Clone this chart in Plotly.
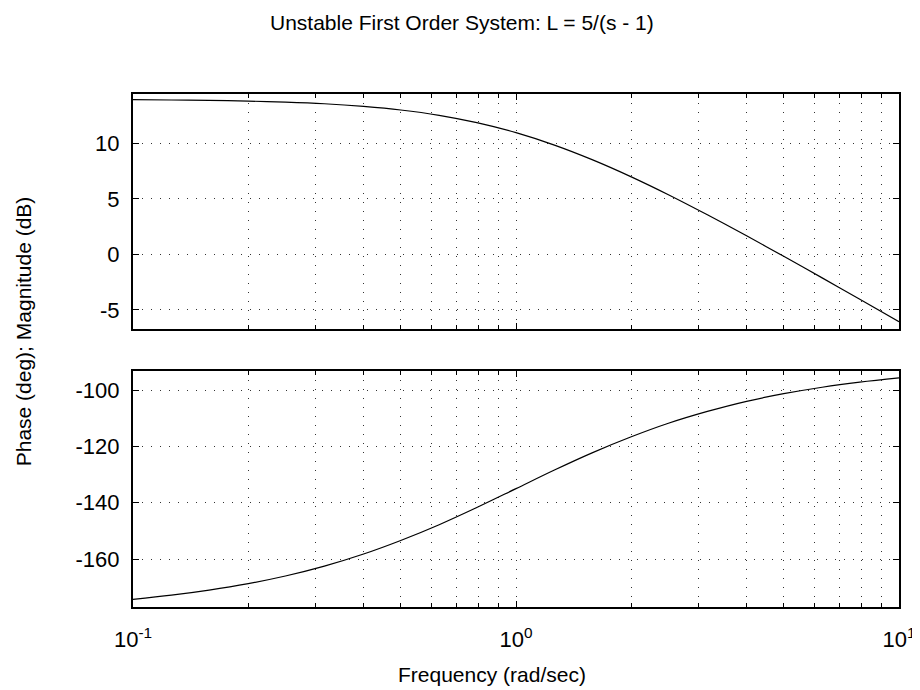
"""
 Bode plot of an unstable first order system
"""

from plotly.graph_objects import Scatter, Figure

# frequencies (rad/sec) and values
freq = [0.1, 0.126, 0.158, 0.2, 0.25, 0.316, 0.4, 0.5, 0.63, 0.79,
        1.0, 1.26, 1.58, 2.0, 2.5, 3.16, 4.0, 5.0, 6.3, 7.9, 10.0]
magnitude_db = [13.94, 13.91, 13.87, 13.81, 13.72, 13.57, 13.33, 13.01, 12.53, 11.87,
                10.97, 9.85, 8.54, 6.99, 5.38, 3.57, 1.68, -0.17, -2.11, -4.04, -6.06]
phase_deg = [-174.3, -172.8, -171.0, -168.7, -166.0, -162.5, -158.2, -153.4, -147.8, -141.7,
             -135.0, -128.4, -122.3, -116.6, -111.8, -107.6, -104.0, -101.3, -99.0, -97.2, -95.7]

mag_ticks = [-5, 0, 5, 10]
mag_ticktext = ["-5", "0", "5", "10"]
phase_ticks = [-160, -140, -120, -100]
phase_ticktext = ["-160", "-140", "-120", "-100"]
x_ticks = [0.1, 1, 10]
x_ticktext = ["10<sup>-1</sup>", "10<sup>0</sup>", "10<sup>1</sup>"]
x_minor = [0.2, 0.3, 0.4, 0.5, 0.6, 0.7, 0.8, 0.9, 2, 3, 4, 5, 6, 7, 8, 9]

title = "Unstable First Order System: L = 5/(s - 1)"
xlabel = "Frequency (rad/sec)"
ylabel = "Phase (deg); Magnitude (dB)"

# page body adds 8px around the plot div
W, H, OFF = 920, 690, 8
ML, MR, MT, MB = 125, 27, 86, 91


def to_paper(px, py):
    """window pixel -> paper coordinates"""
    fx, fy = px - OFF, py - OFF
    return (fx - ML) / (W - ML - MR), (H - MB - fy) / (H - MT - MB)


def main():
    """
       Build the figure and write it
    """
    family = "Liberation Sans, Arial, sans-serif"
    font = dict(family=family, size=21, color="black")
    tick_font = dict(family=family, size=22, color="black")
    grid = dict(showgrid=True, gridcolor="#333", griddash="1px,8px", gridwidth=1)

    fig = Figure()
    fig.add_trace(Scatter(x=freq, y=magnitude_db, mode="lines", line_shape="spline",
                          line=dict(color="black", width=1.2), xaxis="x", yaxis="y"))
    fig.add_trace(Scatter(x=freq, y=phase_deg, mode="lines", line_shape="spline",
                          line=dict(color="black", width=1.2), xaxis="x2", yaxis="y2"))

    common_x = dict(type="log", range=[-1, 1], showline=True, linecolor="black", linewidth=2,
                    mirror="ticks", ticks="inside", ticklen=6, tickcolor="black",
                    tickvals=x_ticks, ticktext=x_ticktext,
                    minor=dict(tickvals=x_minor, ticks="inside", ticklen=4, tickcolor="black",
                               **grid),
                    zeroline=False, tickfont=tick_font, **grid)
    common_y = dict(showline=True, linecolor="black", linewidth=2, mirror="ticks",
                    ticks="inside", ticklen=6, tickcolor="black", ticklabelstandoff=7,
                    zeroline=False, tickfont=tick_font, **grid)

    tx, ty = to_paper(268, 22)
    xx, xy = to_paper(493, 674)
    yx, yy = to_paper(23, 468)

    fig.update_layout(
        width=W, height=H,
        paper_bgcolor="white", plot_bgcolor="white",
        showlegend=False,
        margin=dict(l=ML, r=MR, t=MT, b=MB),
        font=font,
        xaxis=dict(common_x, domain=[0, 1], anchor="y", showticklabels=False, matches="x2"),
        yaxis=dict(common_y, domain=[0.542, 1], range=[-6.71, 14.45],
                   tickvals=mag_ticks, ticktext=mag_ticktext),
        xaxis2=dict(common_x, domain=[0, 1], anchor="y2", ticklabelstandoff=12),
        yaxis2=dict(common_y, domain=[0, 0.46], range=[-177.0, -93.25],
                    tickvals=phase_ticks, ticktext=phase_ticktext),
        annotations=[
            dict(text=title, x=tx, y=ty, xref="paper", yref="paper",
                 xanchor="left", yanchor="middle", showarrow=False, font=font),
            dict(text=xlabel, x=xx, y=xy, xref="paper", yref="paper",
                 xanchor="center", yanchor="middle", showarrow=False, font=font),
            dict(text=ylabel, textangle=-90, x=yx, y=yy, xref="paper", yref="paper",
                 xanchor="center", yanchor="bottom", showarrow=False, font=font),
        ],
    )
    fig.write_html("out.html")


if __name__ == "__main__":
    main()
